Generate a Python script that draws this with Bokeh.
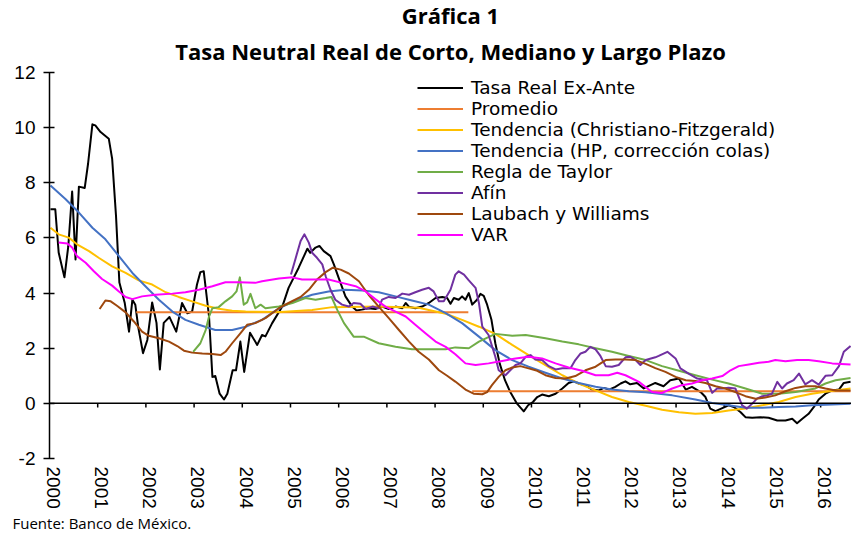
import numpy as np
from bokeh.plotting import figure
from bokeh.models import (Range1d, FixedTicker, CustomJSTickFormatter, Span,
                          Legend, LegendItem, Title)
from bokeh.embed import file_html
from bokeh.resources import INLINE

# ---------------- data (fractional years, percent) ----------------
years = list(range(2000, 2017))
y_ticks = [-2, 0, 2, 4, 6, 8, 10, 12]

tasa_x = [2000.02, 2000.12, 2000.19, 2000.31, 2000.39, 2000.47, 2000.54, 2000.61, 2000.73, 2000.80,
          2000.89, 2000.95, 2001.06, 2001.23, 2001.30, 2001.38, 2001.45, 2001.56, 2001.65, 2001.72,
          2001.78, 2001.84, 2001.94, 2002.03, 2002.13, 2002.22, 2002.29, 2002.37, 2002.49, 2002.63,
          2002.75, 2002.86, 2002.96, 2003.06, 2003.13, 2003.20, 2003.31, 2003.38, 2003.44, 2003.53,
          2003.62, 2003.69, 2003.80, 2003.87, 2003.96, 2004.04, 2004.16, 2004.31, 2004.41, 2004.48,
          2004.62, 2004.83, 2004.96, 2005.17, 2005.35, 2005.41, 2005.52, 2005.60, 2005.69, 2005.83,
          2005.90, 2006.00, 2006.14, 2006.28, 2006.37, 2006.48, 2006.62, 2006.76, 2006.90, 2007.04,
          2007.18, 2007.32, 2007.39, 2007.46, 2007.59, 2007.73, 2007.87, 2008.01, 2008.15, 2008.25,
          2008.32, 2008.39, 2008.49, 2008.56, 2008.63, 2008.70, 2008.77, 2008.87, 2008.94, 2009.01,
          2009.08, 2009.17, 2009.25, 2009.34, 2009.45, 2009.56, 2009.70, 2009.84, 2009.93, 2010.03,
          2010.12, 2010.22, 2010.36, 2010.50, 2010.64, 2010.77, 2010.88, 2010.98, 2011.12, 2011.26,
          2011.40, 2011.50, 2011.61, 2011.74, 2011.85, 2011.95, 2012.05, 2012.19, 2012.33, 2012.47,
          2012.57, 2012.74, 2012.88, 2013.06, 2013.20, 2013.33, 2013.51, 2013.61, 2013.71, 2013.82,
          2013.96, 2014.09, 2014.20, 2014.34, 2014.44, 2014.58, 2014.75, 2014.92, 2015.10, 2015.27,
          2015.41, 2015.51, 2015.62, 2015.75, 2015.86, 2015.96, 2016.10, 2016.24, 2016.38, 2016.48,
          2016.62]
tasa_y = [7.04, 7.04, 5.47, 4.57, 5.70, 7.68, 5.22, 7.86, 7.81, 8.69,
          10.12, 10.08, 9.84, 9.60, 8.87, 6.80, 4.38, 3.65, 2.60, 3.76,
          3.58, 2.78, 1.82, 2.30, 3.66, 2.92, 1.23, 2.92, 3.13, 2.60,
          3.64, 3.27, 3.33, 4.31, 4.76, 4.79, 3.15, 0.96, 0.99, 0.35,
          0.14, 0.35, 1.20, 1.20, 2.24, 1.14, 2.56, 2.12, 2.48, 2.43,
          2.91, 3.51, 4.19, 4.92, 5.61, 5.46, 5.65, 5.71, 5.52, 5.34,
          5.04, 4.55, 3.88, 3.51, 3.37, 3.40, 3.45, 3.42, 3.51, 3.42,
          3.51, 3.45, 3.64, 3.50, 3.45, 3.51, 3.64, 3.82, 3.86, 3.82,
          3.61, 3.82, 3.76, 3.88, 3.76, 4.00, 3.58, 3.76, 3.97, 3.90,
          3.58, 3.03, 2.18, 1.45, 0.84, 0.41, -0.01, -0.29, -0.07, 0.05,
          0.23, 0.32, 0.26, 0.35, 0.54, 0.74, 0.80, 0.72, 0.66, 0.50,
          0.47, 0.56, 0.50, 0.60, 0.72, 0.80, 0.69, 0.74, 0.54, 0.66,
          0.74, 0.62, 0.84, 0.90, 0.50, 0.60, 0.41, 0.23, -0.19, -0.28,
          -0.17, -0.07, -0.13, -0.32, -0.50, -0.52, -0.50, -0.52, -0.62, -0.62,
          -0.56, -0.72, -0.56, -0.38, -0.13, 0.14, 0.35, 0.47, 0.50, 0.74,
          0.78]

promedio_x = [2001.80, 2008.69, 2008.73, 2008.77, 2016.62]
promedio_y = [3.30, 3.30, np.nan, 0.44, 0.44]

cf_x = [2000.02, 2000.19, 2000.40, 2000.57, 2000.82, 2001.02, 2001.30, 2001.58, 2001.85, 2002.13,
        2002.41, 2002.68, 2002.96, 2003.24, 2003.51, 2003.79, 2004.07, 2004.80, 2005.45, 2005.87,
        2006.83, 2007.66, 2008.01, 2008.22, 2008.56, 2008.91, 2009.25, 2009.60, 2009.94, 2010.29,
        2010.64, 2010.98, 2011.33, 2011.67, 2012.02, 2012.37, 2012.71, 2013.06, 2013.40, 2013.75,
        2014.09, 2014.44, 2014.79, 2015.13, 2015.48, 2015.82, 2016.17, 2016.62]
cf_y = [6.37, 6.13, 6.01, 5.77, 5.52, 5.28, 4.97, 4.73, 4.46, 4.31,
        4.03, 3.86, 3.70, 3.54, 3.43, 3.36, 3.33, 3.31, 3.39, 3.49,
        3.51, 3.47, 3.33, 3.25, 3.03, 2.78, 2.52, 2.12, 1.75, 1.39,
        1.02, 0.72, 0.47, 0.23, 0.05, -0.09, -0.23, -0.32, -0.38, -0.35,
        -0.26, -0.19, -0.07, 0.05, 0.23, 0.35, 0.44, 0.54]

hp_x = [2000.02, 2000.33, 2000.61, 2000.89, 2001.16, 2001.44, 2001.72, 2001.99, 2002.27, 2002.55,
        2002.82, 2003.10, 2003.44, 2003.79, 2004.07, 2004.41, 2004.76, 2005.10, 2005.45, 2005.79,
        2006.14, 2006.49, 2006.83, 2007.18, 2007.52, 2007.87, 2008.22, 2008.56, 2008.91, 2009.25,
        2009.60, 2009.94, 2010.29, 2010.64, 2010.98, 2011.33, 2011.67, 2012.02, 2012.37, 2012.92,
        2013.40, 2013.75, 2014.09, 2014.44, 2014.79, 2015.13, 2015.48, 2015.82, 2016.24, 2016.62]
hp_y = [7.90, 7.41, 6.92, 6.37, 5.95, 5.34, 4.73, 4.25, 3.76, 3.33,
        3.03, 2.85, 2.66, 2.66, 2.78, 3.03, 3.45, 3.73, 3.94, 4.06,
        4.12, 4.09, 4.03, 3.88, 3.73, 3.58, 3.27, 2.91, 2.42, 1.93,
        1.57, 1.33, 1.11, 0.90, 0.74, 0.60, 0.50, 0.44, 0.40, 0.29,
        0.14, 0.01, -0.07, -0.16, -0.16, -0.13, -0.11, -0.07, -0.04, -0.01]

taylor_x = [2002.98, 2003.13, 2003.24, 2003.31, 2003.38, 2003.51, 2003.65, 2003.79, 2003.88, 2003.95,
            2004.03, 2004.10, 2004.17, 2004.27, 2004.38, 2004.48, 2004.76, 2005.04, 2005.31, 2005.52,
            2005.73, 2005.85, 2005.97, 2006.11, 2006.31, 2006.52, 2006.83, 2007.18, 2007.52, 2007.87,
            2008.22, 2008.42, 2008.70, 2008.91, 2009.25, 2009.60, 2009.88, 2010.29, 2010.64, 2010.98,
            2011.33, 2011.67, 2012.02, 2012.37, 2012.71, 2013.06, 2013.40, 2013.75, 2014.09, 2014.44,
            2014.79, 2015.13, 2015.48, 2015.89, 2016.10, 2016.31, 2016.62]
taylor_y = [1.87, 2.18, 2.66, 3.15, 3.45, 3.49, 3.70, 3.88, 4.06, 4.57,
            3.58, 3.66, 3.97, 3.45, 3.58, 3.45, 3.51, 3.64, 3.82, 3.76,
            3.82, 3.86, 3.39, 2.91, 2.42, 2.42, 2.18, 2.05, 1.96, 1.96,
            1.96, 2.03, 2.00, 2.24, 2.52, 2.45, 2.48, 2.36, 2.24, 2.14,
            2.00, 1.87, 1.72, 1.57, 1.35, 1.18, 1.02, 0.86, 0.72, 0.54,
            0.35, 0.35, 0.41, 0.54, 0.72, 0.84, 0.92]

afin_x = [2005.01, 2005.10, 2005.21, 2005.29, 2005.38, 2005.45, 2005.55, 2005.66, 2005.73, 2005.83,
          2005.93, 2006.07, 2006.21, 2006.31, 2006.45, 2006.56, 2006.70, 2006.83, 2006.90, 2007.04,
          2007.18, 2007.32, 2007.46, 2007.59, 2007.73, 2007.87, 2007.97, 2008.08, 2008.18, 2008.32,
          2008.42, 2008.49, 2008.60, 2008.70, 2008.84, 2008.91, 2008.98, 2009.11, 2009.25, 2009.32,
          2009.46, 2009.56, 2009.67, 2009.77, 2009.88, 2009.98, 2010.08, 2010.22, 2010.36, 2010.50,
          2010.64, 2010.81, 2010.91, 2011.02, 2011.12, 2011.22, 2011.33, 2011.43, 2011.54, 2011.67,
          2011.81, 2011.95, 2012.05, 2012.16, 2012.26, 2012.37, 2012.57, 2012.64, 2012.82, 2012.99,
          2013.09, 2013.26, 2013.44, 2013.64, 2013.75, 2013.85, 2013.96, 2014.09, 2014.23, 2014.37,
          2014.47, 2014.58, 2014.68, 2014.79, 2014.89, 2014.99, 2015.10, 2015.20, 2015.30, 2015.44,
          2015.55, 2015.68, 2015.82, 2015.96, 2016.10, 2016.24, 2016.38, 2016.48, 2016.62]
afin_y = [4.67, 5.22, 5.89, 6.13, 5.83, 5.46, 5.28, 5.04, 4.61, 4.12,
          3.76, 3.58, 3.51, 3.64, 3.61, 3.42, 3.51, 3.45, 3.76, 3.86,
          3.82, 3.98, 3.94, 4.03, 4.12, 4.19, 4.06, 3.70, 3.70, 4.12,
          4.67, 4.79, 4.67, 4.46, 4.19, 3.64, 2.78, 2.48, 1.69, 1.20,
          1.02, 1.20, 1.39, 1.45, 1.69, 1.75, 1.59, 1.57, 1.35, 1.23,
          1.27, 1.27, 1.57, 1.81, 1.87, 2.05, 1.96, 1.72, 1.35, 1.33,
          1.39, 1.67, 1.69, 1.57, 1.39, 1.57, 1.67, 1.72, 1.87, 1.63,
          1.27, 1.08, 0.90, 0.84, 0.38, 0.54, 0.54, 0.57, 0.54, -0.07,
          -0.19, -0.01, 0.17, 0.26, 0.29, 0.35, 0.78, 0.54, 0.72, 0.84,
          1.08, 0.69, 0.84, 0.68, 1.00, 1.02, 1.35, 1.87, 2.08]

lw_x = [2001.04, 2001.16, 2001.27, 2001.40, 2001.58, 2001.75, 2001.92, 2002.06, 2002.27, 2002.48,
        2002.65, 2002.79, 2002.96, 2003.17, 2003.38, 2003.55, 2003.65, 2003.79, 2003.96, 2004.10,
        2004.27, 2004.48, 2004.76, 2004.96, 2005.21, 2005.38, 2005.55, 2005.73, 2005.88, 2006.04,
        2006.21, 2006.42, 2006.62, 2006.83, 2007.04, 2007.25, 2007.46, 2007.66, 2007.87, 2008.08,
        2008.25, 2008.42, 2008.63, 2008.80, 2008.98, 2009.08, 2009.18, 2009.32, 2009.46, 2009.60,
        2009.77, 2009.94, 2010.12, 2010.29, 2010.50, 2010.71, 2010.91, 2011.12, 2011.33, 2011.54,
        2011.74, 2011.95, 2012.16, 2012.37, 2012.57, 2012.78, 2012.99, 2013.20, 2013.40, 2013.61,
        2013.82, 2014.02, 2014.23, 2014.44, 2014.65, 2014.85, 2015.06, 2015.27, 2015.48, 2015.68,
        2015.89, 2016.10, 2016.31, 2016.62]
lw_y = [3.42, 3.73, 3.70, 3.54, 3.30, 2.97, 2.60, 2.45, 2.36, 2.24,
        2.08, 1.91, 1.84, 1.81, 1.79, 1.75, 1.87, 2.18, 2.54, 2.85,
        2.91, 3.09, 3.45, 3.64, 3.86, 4.12, 4.49, 4.76, 4.92, 4.85,
        4.71, 4.43, 3.94, 3.51, 3.09, 2.66, 2.24, 1.87, 1.59, 1.20,
        1.00, 0.79, 0.50, 0.35, 0.33, 0.41, 0.66, 0.96, 1.20, 1.30,
        1.35, 1.27, 1.18, 1.02, 0.92, 0.90, 0.99, 1.20, 1.33, 1.57,
        1.59, 1.59, 1.57, 1.43, 1.28, 1.14, 0.96, 0.84, 0.81, 0.74,
        0.62, 0.54, 0.41, 0.26, 0.17, 0.21, 0.29, 0.44, 0.56, 0.62,
        0.62, 0.54, 0.47, 0.47]

var_x = [2000.19, 2000.37, 2000.47, 2000.57, 2000.75, 2000.92, 2001.09, 2001.30, 2001.44, 2001.58,
         2001.72, 2001.92, 2002.20, 2002.55, 2002.82, 2003.10, 2003.38, 2003.65, 2003.93, 2004.27,
         2004.41, 2004.76, 2005.04, 2005.24, 2005.52, 2005.79, 2006.07, 2006.35, 2006.56, 2006.76,
         2006.97, 2007.18, 2007.39, 2007.59, 2007.80, 2008.01, 2008.22, 2008.42, 2008.63, 2008.84,
         2009.11, 2009.39, 2009.67, 2009.94, 2010.22, 2010.50, 2010.77, 2011.05, 2011.33, 2011.60,
         2011.78, 2011.95, 2012.23, 2012.50, 2012.71, 2012.92, 2013.12, 2013.33, 2013.54, 2013.75,
         2013.96, 2014.13, 2014.30, 2014.51, 2014.72, 2014.92, 2015.06, 2015.27, 2015.51, 2015.75,
         2015.96, 2016.24, 2016.62]
var_y = [5.83, 5.80, 5.65, 5.34, 5.10, 4.79, 4.51, 4.27, 4.06, 3.86,
         3.78, 3.88, 3.94, 3.98, 4.03, 4.12, 4.25, 4.39, 4.39, 4.37,
         4.43, 4.53, 4.57, 4.49, 4.49, 4.49, 4.37, 4.25, 4.06, 3.78,
         3.51, 3.33, 3.15, 2.85, 2.54, 2.24, 2.05, 1.78, 1.45, 1.39,
         1.45, 1.54, 1.63, 1.69, 1.63, 1.45, 1.30, 1.18, 1.02, 1.02,
         1.11, 1.02, 0.78, 0.41, 0.38, 0.54, 0.66, 0.72, 0.84, 0.90,
         0.99, 1.20, 1.35, 1.41, 1.47, 1.51, 1.57, 1.53, 1.57, 1.57,
         1.53, 1.45, 1.41]

series = [
    ("Tasa Real Ex-Ante", tasa_x, tasa_y, "#000000"),
    ("Promedio", promedio_x, promedio_y, "#ED7D31"),
    ("Tendencia (Christiano-Fitzgerald)", cf_x, cf_y, "#FFC000"),
    ("Tendencia (HP, corrección colas)", hp_x, hp_y, "#4472C4"),
    ("Regla de Taylor", taylor_x, taylor_y, "#70AD47"),
    ("Afín", afin_x, afin_y, "#7030A0"),
    ("Laubach y Williams", lw_x, lw_y, "#9E480E"),
    ("VAR", var_x, var_y, "#FF00FF"),
]

# ---------------- figure ----------------
p = figure(width=851, height=533, output_backend="svg", toolbar_location=None,
           title=None,
           x_range=Range1d(2000.0, 2016.64), y_range=Range1d(-2, 12),
           min_border_left=49, min_border_right=0, min_border_top=10, min_border_bottom=75)
p.outline_line_color = None
p.xgrid.visible = False
p.ygrid.visible = False
p.background_fill_color = "white"
p.border_fill_color = "white"

tick_font = "Liberation Sans"

# x axis: labels only, at the bottom
p.xaxis.ticker = FixedTicker(ticks=[y + 0.08 for y in years])
p.xaxis.formatter = CustomJSTickFormatter(code="return String(Math.floor(tick));")
p.xaxis.major_label_orientation = "vertical"
p.xaxis.axis_line_color = None
p.xaxis.major_tick_line_color = None
p.xaxis.minor_tick_line_color = None
p.xaxis.major_tick_out = 0
p.xaxis.major_tick_in = 0
p.xaxis.major_label_standoff = 8
p.xaxis.major_label_text_font = tick_font
p.xaxis.major_label_text_font_size = "19px"
p.xaxis.major_label_text_color = "black"

# y axis
p.yaxis.ticker = FixedTicker(ticks=y_ticks)
p.yaxis.formatter = CustomJSTickFormatter(code="return String(tick);")
p.yaxis.axis_line_color = "black"
p.yaxis.axis_line_width = 1.5
p.yaxis.major_tick_line_color = "black"
p.yaxis.major_tick_line_width = 1.5
p.yaxis.major_tick_in = 5
p.yaxis.major_tick_out = 6
p.yaxis.minor_tick_line_color = None
p.yaxis.major_label_standoff = 8
p.yaxis.major_label_text_font = tick_font
p.yaxis.major_label_text_font_size = "19px"
p.yaxis.major_label_text_color = "black"

# zero line with year ticks
p.add_layout(Span(location=0, dimension="width", line_color="black", line_width=1.5))
tick_len = 0.15
p.segment(x0=years[1:], y0=[0] * (len(years) - 1), x1=years[1:],
          y1=[-tick_len] * (len(years) - 1), line_color="black", line_width=1.5)

items = []
for name, xs, ys, col in series:
    r = p.line(xs, ys, line_color=col, line_width=2, line_join="round")
    items.append(LegendItem(label=name, renderers=[r]))

legend = Legend(items=items, location=(368, 213), orientation="vertical",
                background_fill_alpha=0, border_line_color=None,
                padding=0, margin=0, spacing=0,
                glyph_width=46, glyph_height=21, label_height=21, label_standoff=8,
                label_text_font="DejaVu Sans", label_text_font_size="18.5px",
                label_text_line_height=1.0,
                label_text_color="black")
p.add_layout(legend, "center")

# titles
p.add_layout(Title(text="Tasa Neutral Real de Corto, Mediano y Largo Plazo", align="center",
                   text_font="Open Sans", text_font_size="22px", text_font_style="bold",
                   text_color="black", standoff=13), "above")
p.add_layout(Title(text="Gráfica 1", align="center",
                   text_font="Open Sans", text_font_size="22px", text_font_style="bold",
                   text_color="black", standoff=-5), "above")
p.add_layout(Title(text="Fuente: Banco de México.", align="left", offset=-37,
                   text_font="Open Sans", text_font_size="15px", text_font_style="normal",
                   text_color="black", standoff=-2), "below")

open("out.html", "w").write(file_html(p, INLINE))
